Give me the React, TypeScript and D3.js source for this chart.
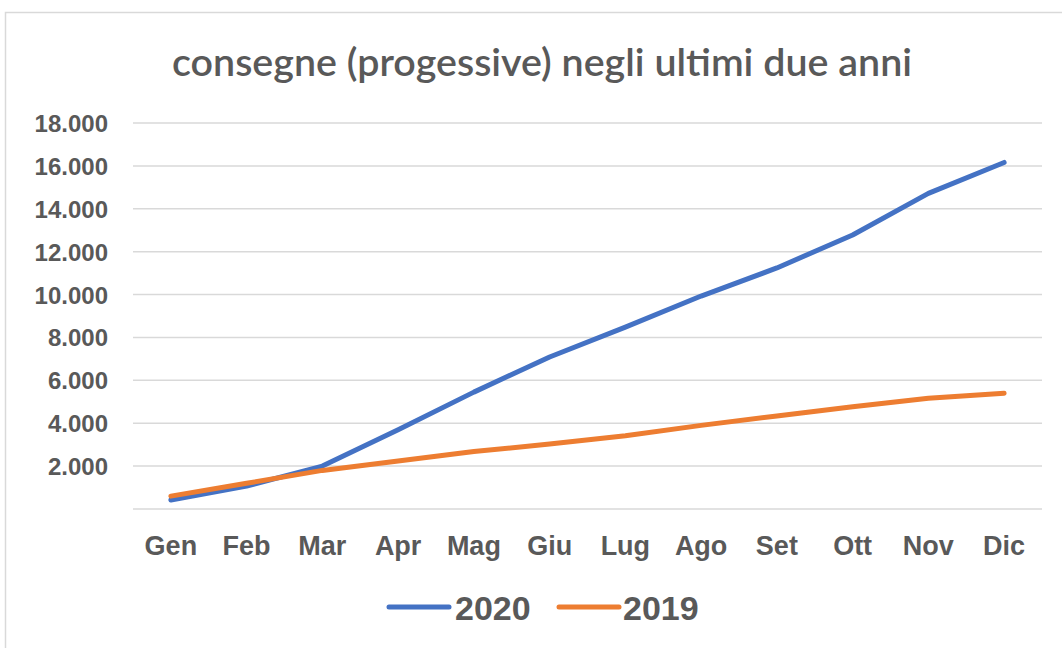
import React from 'react';
import * as d3 from 'd3';

const months = ['Gen', 'Feb', 'Mar', 'Apr', 'Mag', 'Giu', 'Lug', 'Ago', 'Set', 'Ott', 'Nov', 'Dic'];
const values2020 = [420, 1070, 2000, 3700, 5450, 7090, 8480, 9930, 11240, 12780, 14720, 16160];
const values2019 = [600, 1200, 1800, 2240, 2680, 3030, 3420, 3900, 4340, 4770, 5160, 5400];
const yTicks = [0, 2000, 4000, 6000, 8000, 10000, 12000, 14000, 16000, 18000];

const W = 1062;
const H = 648;
const left = 133;
const right = 1042;
const top = 123;
const bottom = 509;

const fmt = (v: number) => (v === 0 ? '' : d3.format(',')(v).replace(/,/g, '.'));

export default function App() {
  const x = d3.scaleBand<string>().domain(months).range([left, right]);
  const y = d3.scaleLinear().domain([0, 18000]).range([bottom, top]);
  const cx = (m: string) => (x(m) as number) + x.bandwidth() / 2;

  const line = d3
    .line<number>()
    .x((_, i) => cx(months[i]))
    .y(d => y(d));

  const series = [
    { name: '2020', data: values2020, color: '#4472C4', lx: 389, tx: 455 },
    { name: '2019', data: values2019, color: '#ED7D31', lx: 559, tx: 623 },
  ];

  const axisFont = "'Liberation Sans', Arial, sans-serif";

  return (
    <svg width={W} height={H} style={{ position: 'absolute', left: 0, top: 0 }}>
      <rect x={0} y={0} width={W} height={H} fill="#fff" />
      <rect x={5.5} y={12.5} width={1200} height={800} fill="#fff" stroke="#d9d9d9" strokeWidth={1.5} />
      <text
        x={172}
        y={76}
        textLength={740}
        lengthAdjust="spacingAndGlyphs"
        fontFamily="Lato, 'Open Sans', sans-serif"
        fontWeight={600}
        fontSize={38}
        fill="#595959"
      >
        consegne (progessive) negli ultimi due anni
      </text>

      {yTicks.map(t => (
        <g key={t}>
          <line x1={left} x2={right} y1={y(t)} y2={y(t)} stroke="#d9d9d9" strokeWidth={1.5} />
          <text
            x={108}
            y={y(t) + 9}
            textAnchor="end"
            fontFamily={axisFont}
            fontWeight="bold"
            fontSize={24}
            fill="#595959"
          >
            {fmt(t)}
          </text>
        </g>
      ))}

      {months.map(m => (
        <text
          key={m}
          x={cx(m)}
          y={555}
          textAnchor="middle"
          fontFamily={axisFont}
          fontWeight="bold"
          fontSize={27}
          fill="#595959"
        >
          {m}
        </text>
      ))}

      {series.map(s => (
        <path
          key={s.name}
          d={line(s.data) || ''}
          fill="none"
          stroke={s.color}
          strokeWidth={5}
          strokeLinecap="round"
          strokeLinejoin="round"
        />
      ))}

      {series.map(s => (
        <g key={s.name}>
          <line x1={s.lx} x2={s.lx + 60} y1={607} y2={607} stroke={s.color} strokeWidth={5} strokeLinecap="round" />
          <text
            x={s.tx}
            y={620}
            fontFamily={axisFont}
            fontWeight="bold"
            fontSize={34}
            fill="#595959"
          >
            {s.name}
          </text>
        </g>
      ))}
    </svg>
  );
}
